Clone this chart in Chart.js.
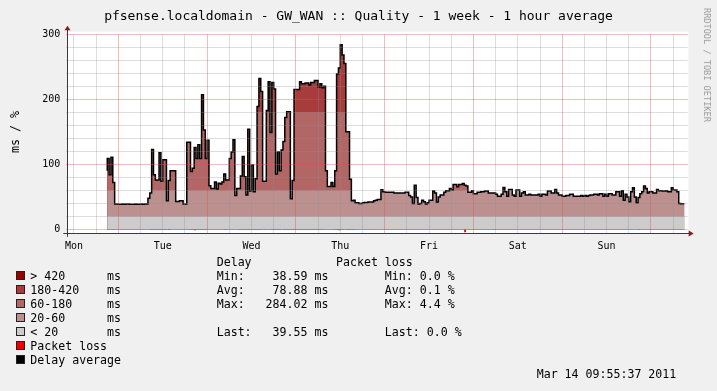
<!DOCTYPE html>
<html><head><meta charset="utf-8">
<script src="https://cdn.jsdelivr.net/npm/chart.js@4/dist/chart.umd.min.js"></script>
<style>
html,body{margin:0;padding:0;background:#f0f0f0;}
#wrap{position:relative;width:717px;height:391px;overflow:hidden;background:#f0f0f0;font-family:"DejaVu Sans Mono",monospace;color:#000;}
canvas{position:absolute;left:0;top:0;}
.t{position:absolute;white-space:pre;font-size:11.6px;line-height:14px;}
.box{position:absolute;width:7px;height:7px;border:1px solid #222;}
.rot{position:absolute;white-space:pre;transform:translate(-50%,-50%);}
</style></head><body>
<div id="wrap">
<canvas id="c" width="717" height="391"></canvas>
<div class="t" style="left:0;width:717px;text-align:center;top:7.6px;font-size:13px;line-height:15px;">pfsense.localdomain - GW_WAN :: Quality - 1 week - 1 hour average</div>
<div class="rot" style="left:15px;top:131.7px;font-size:11.6px;transform:translate(-50%,-50%) rotate(-90deg);">ms / %</div>
<div class="rot" style="left:706.7px;top:65px;font-size:8.6px;color:#9a9a9a;transform:translate(-50%,-50%) rotate(90deg);">RRDTOOL / TOBI OETIKER</div>
<div id="legend"></div>
</div>
<script>
// ---- data (30-minute bins starting Mon 21:00, graph start Mon Mar 7 09:55:37) ----
const delayMs = [
 90,109,84,111,72,
 39,39,38.8,38.6,39,38.8,39,39.2,38.8,38.6,38.8,39,38.7,38.6,38.9,38.8,39,39.2,
 48,56,123,84,76,76,118,74,107,107,44,75,90,90,90,
 43,43,44,44,39,39,
 134,134,89,94,126,109,130,109,207,153,109,137,67,
 63,63,73,62,71,70,73,85,76,76,109,119,138,52,63,63,82,112,81,53,154,
 59,99,58,78,189,232,212,74,74,183,227,149,226,216,85,119,90,122,135,172,181,181,47,75,
 215,215,215,227,224,224,225,225,222,226,226,229,229,219,224,218,220,
 90,66,66,72,66,90,
 239,248,284,268,255,150,150,77,44,
 45,41,41,40,40,41,41.5,41.5,42,42,42,44,45,46,46,
 61,58,57,57,57,57,57,56,56,56,56,56,56,57,57,
 52,50,40,68,49,39,40,45,42.5,39,41,45,45,59,56,42,50,53,53,57,59.5,59.5,63,60.5,69,69,65.6,69,69,70.7,68,66.6,
 57,57,59.5,55,55,57,57,58,58,59,59,56,56,56,56,54,51,51,54,64.6,58,51,61.5,61.5,53,51,60.5,60.5,51,56,58,53,53,54,53,53,
 53,53,54,51,54,54,53,59,59,56,56,61.5,56,53,53,51,51,52,52,54,54,51,51,51,51,52,51,52,51,52,
 53,53,54,54,53,55,55,51,54,51,55,55,53,53,58,58,51,59.5,45,54,50,42.5,58,64,50,41,49,55,58,66.6,
 63,56,58,58,56,56,61.5,59.5,59.5,59,59,59.5,58,58,64,60.5,60.5,58,40,39.55
];
// packet loss runs (bin index start, end, percent)
const lossStart = [1,4,24,34,45,48,64,72,79,82,86,89,92,96,103,123,126,130,167,194,210,288,294];
const lossEnd   = [1,4,32,34,54,48,65,78,81,84,86,91,94,102,117,128,126,134,183,194,210,288,294];
const lossPct   = [0.5,0.5,0.4,1.0,0.4,1.5,0.4,0.4,0.4,0.4,0.4,0.4,0.4,0.4,0.4,0.4,1.5,0.4,0.3,4.4,0.5,0.5,0.5];
const dayLabels = ['Mon','Tue','Wed','Thu','Fri','Sat','Sun'];
const yLabelValues = [0,100,200,300];
const bandNames = ['> 420','180-420','60-180','20-60','< 20'];
const bandCaps = [Infinity,420,180,60,20];
const bandColors = ['#990000','#a83c3c','#b36666','#bd9090','#cccccc'];
const lossColor = '#ee0000';
const lineColor = '#000000';
const delayStats = ['Min:    38.59 ms','Avg:    78.88 ms','Max:   284.02 ms','','Last:   39.55 ms'];
const lossStats  = ['Min: 0.0 %','Avg: 0.1 %','Max: 4.4 %','','Last: 0.0 %'];
const stampText = 'Mar 14 09:55:37 2011';
const firstBinHour = 11.0731;   // 21:00 Monday, hours after graph start
const binHours = 0.5;
const firstNoonHour = 2.0731;   // Monday 12:00
const spanHours = 168;

// ---- build ----
const loss = delayMs.map(()=>0);
lossStart.forEach((s,k)=>{ for(let i=s;i<=lossEnd[k];i++) loss[i]=lossPct[k]; });
function stepPts(vals){
  const pts = vals.map((v,i)=>({x:firstBinHour+i*binHours,y:v}));
  pts.push({x:firstBinHour+vals.length*binHours,y:vals[vals.length-1]});
  return pts;
}
const datasets = [];
bandCaps.forEach((cap,k)=>{
  datasets.push({data:stepPts(delayMs.map(v=>Math.min(v,cap))),backgroundColor:bandColors[k],
    borderColor:'rgba(0,0,0,0)',borderWidth:0,fill:'origin',stepped:'after',pointRadius:0,order:10-k});
});
datasets.push({data:stepPts(loss.map(v=>-v)),backgroundColor:lossColor,borderColor:'rgba(0,0,0,0)',
  borderWidth:0,fill:'origin',stepped:'after',pointRadius:0,order:2});
datasets.push({data:stepPts(delayMs),borderColor:lineColor,borderWidth:1.5,fill:false,stepped:'after',pointRadius:0,order:1});

const xGrid=[]; for(let h=firstNoonHour; h<spanHours; h+=6) xGrid.push(h);
const yGrid=[]; for(let v=0; v<=300; v+=20) yGrid.push(v);
const MAJOR='rgba(222,79,79,0.38)', MINOR='rgba(143,143,143,0.30)';
const isMidnight = v => Math.abs(((v-firstNoonHour)%24+24)%24-12)<0.01;
const isNoon = v => Math.abs(((v-firstNoonHour)%24+24)%24)<0.01;

const deco = {id:'deco',
  beforeDraw(chart){
    const {ctx,chartArea:a}=chart; ctx.save();
    ctx.fillStyle='#f0f0f0'; ctx.fillRect(0,0,chart.width,chart.height);
    ctx.fillStyle='#ffffff'; ctx.fillRect(Math.round(a.left)+1,a.top-2.5,a.right-a.left,a.bottom-a.top+2.5);
    ctx.restore();
  },
  afterDraw(chart){
    const {ctx,chartArea:a}=chart; ctx.save();
    const ax=Math.round(a.left+1)+0.5, ay=Math.round(a.bottom)+0.5;
    ctx.strokeStyle='#3a3a3a'; ctx.lineWidth=1;
    ctx.beginPath(); ctx.moveTo(ax,a.bottom+3.5); ctx.lineTo(ax,a.top-5); ctx.stroke();
    ctx.beginPath(); ctx.moveTo(a.left-3,ay); ctx.lineTo(a.right+3,ay); ctx.stroke();
    ctx.fillStyle='#801f1f';
    ctx.beginPath(); ctx.moveTo(ax-3,a.top-4); ctx.lineTo(ax+3,a.top-4); ctx.lineTo(ax,a.top-8.5); ctx.closePath(); ctx.fill();
    ctx.beginPath(); ctx.moveTo(a.right+1,ay-3); ctx.lineTo(a.right+1,ay+3); ctx.lineTo(a.right+6,ay); ctx.closePath(); ctx.fill();
    ctx.restore();
  }
};

new Chart(document.getElementById('c'),{
  type:'line',
  data:{datasets},
  plugins:[deco],
  options:{
    responsive:false, animation:false, devicePixelRatio:1,
    layout:{padding:{left:0,right:29.3,top:34.3,bottom:0}},
    plugins:{legend:{display:false},tooltip:{enabled:false},title:{display:false}},
    scales:{
      x:{type:'linear',min:0,max:spanHours,
        afterBuildTicks:s=>{s.ticks=xGrid.map(v=>({value:v}));},
        afterFit:s=>{s.height=391-233.3;},
        border:{display:false},
        grid:{z:1,drawTicks:false,lineWidth:1,color:c=>isMidnight(c.tick.value)?MAJOR:MINOR},
        ticks:{autoSkip:false,maxRotation:0,padding:7,color:'#000',font:{family:'DejaVu Sans Mono',size:10},
          callback:v=>isNoon(v)?dayLabels[Math.round((v-firstNoonHour)/24)]:''}
      },
      y:{type:'linear',min:-6,max:300,
        afterBuildTicks:s=>{s.ticks=yGrid.map(v=>({value:v}));},
        afterFit:s=>{s.width=66.3;},
        border:{display:false},
        grid:{z:1,drawTicks:false,lineWidth:1,color:c=>yLabelValues.includes(c.tick.value)?MAJOR:MINOR},
        ticks:{autoSkip:false,padding:6,color:'#000',font:{family:'DejaVu Sans Mono',size:10},
          callback:v=>yLabelValues.includes(v)?String(v):''}
      }
    }
  }
});

// ---- legend & statistics as text ----
const leg=document.getElementById('legend');
function addText(txt,left,top){const d=document.createElement('div');d.className='t';d.style.left=left+'px';d.style.top=top+'px';d.textContent=txt;leg.appendChild(d);}
function addBox(color,left,top){const d=document.createElement('div');d.className='box';d.style.left=left+'px';d.style.top=top+'px';d.style.background=color;leg.appendChild(d);}
const legendRows = bandNames.map(n=>(n+'           ').slice(0,11)+'ms').concat(['Packet loss','Delay average']);
const legendColors = bandColors.concat([lossColor,lineColor]);
legendRows.forEach((r,k)=>{ addText(r,30.3,268.5+14*k); addBox(legendColors[k],16,271+14*k); });
addText(['Delay'].concat(delayStats).join('\n'),216.7,254.5);
addText(['Packet loss'].concat(lossStats.map(s=>s?'       '+s:'')).join('\n'),336,254.5);
addText(stampText,536.7,366.5);
</script>
</body></html>
